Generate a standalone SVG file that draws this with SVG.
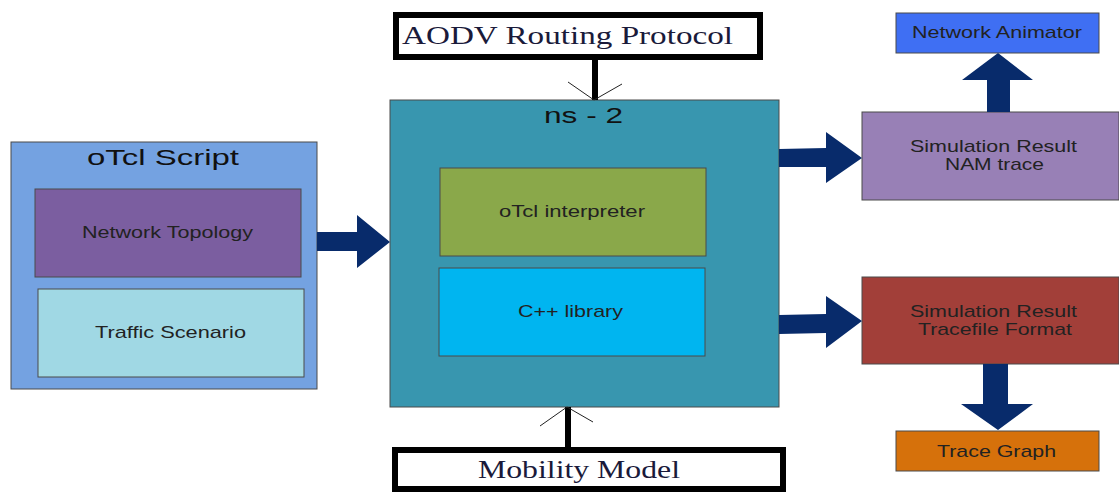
<svg xmlns="http://www.w3.org/2000/svg" width="1119" height="492" viewBox="0 0 1119 492">
<style>
.box{stroke:#4a4a4a;stroke-width:1}
.lbl{font-family:"Liberation Sans",Arial,sans-serif;font-size:17px;fill:#222;text-anchor:start}
.ttl{font-family:"Liberation Sans",Arial,sans-serif;font-size:22px;fill:#111}
.ser{font-family:"Liberation Serif","Times New Roman",serif;font-size:26px;fill:#1a1a3a}
.frame{fill:#fff;stroke:#000;stroke-width:6}
.fat{fill:#082b6b}
.thick{stroke:#000;stroke-width:6;fill:none}
.thin{stroke:#222;stroke-width:1;fill:none}
</style>
<rect width="1119" height="492" fill="#fff"/>
<g id="otcl-script">
<rect class="box" x="11" y="142" width="306" height="247" fill="#74a2e1"/>
<text class="ttl" x="87" y="165" textLength="152" lengthAdjust="spacingAndGlyphs">oTcl Script</text>
</g>
<g id="network-topology">
<rect class="box" x="35" y="189" width="266" height="88" fill="#7b5ea0"/>
<text class="lbl" x="82" y="238" textLength="171" lengthAdjust="spacingAndGlyphs">Network Topology</text>
</g>
<g id="traffic-scenario">
<rect class="box" x="38" y="289" width="266" height="88" fill="#a0d8e4"/>
<text class="lbl" x="95" y="338" textLength="151" lengthAdjust="spacingAndGlyphs">Traffic Scenario</text>
</g>
<g id="ns2">
<rect class="box" x="390" y="100" width="389" height="307" fill="#3896af"/>
<text class="ttl" x="544" y="123" textLength="79" lengthAdjust="spacingAndGlyphs">ns - 2</text>
</g>
<g id="otcl-interpreter">
<rect class="box" x="440" y="168" width="266" height="88" fill="#8aa84a"/>
<text class="lbl" x="499" y="217" textLength="146" lengthAdjust="spacingAndGlyphs">oTcl interpreter</text>
</g>
<g id="cpp-library">
<rect class="box" x="439" y="268" width="266" height="88" fill="#00b5f0"/>
<text class="lbl" x="518" y="317" textLength="105" lengthAdjust="spacingAndGlyphs">C++ library</text>
</g>
<g id="aodv">
<rect class="frame" x="396" y="15" width="364" height="42"/>
<text class="ser" x="402" y="44" textLength="331" lengthAdjust="spacingAndGlyphs">AODV Routing Protocol</text>
</g>
<g id="mobility">
<rect class="frame" x="395" y="450" width="388" height="39"/>
<text class="ser" x="478" y="478" textLength="202" lengthAdjust="spacingAndGlyphs">Mobility Model</text>
</g>
<g id="network-animator">
<rect class="box" x="896" y="13" width="203" height="40" fill="#3f6ff3"/>
<text class="lbl" x="912" y="38" textLength="170" lengthAdjust="spacingAndGlyphs">Network Animator</text>
</g>
<g id="sim-nam">
<rect class="box" x="862" y="112" width="257" height="88" fill="#9880b6"/>
<text class="lbl" x="910" y="152" textLength="167" lengthAdjust="spacingAndGlyphs">Simulation Result</text>
<text class="lbl" x="945" y="170" textLength="99" lengthAdjust="spacingAndGlyphs">NAM trace</text>
</g>
<g id="sim-tracefile">
<rect class="box" x="862" y="277" width="257" height="87" fill="#a23f39"/>
<text class="lbl" x="910" y="317" textLength="167" lengthAdjust="spacingAndGlyphs">Simulation Result</text>
<text class="lbl" x="918" y="335" textLength="154" lengthAdjust="spacingAndGlyphs">Tracefile Format</text>
</g>
<g id="trace-graph">
<rect class="box" x="896" y="431" width="203" height="40" fill="#d6710b"/>
<text class="lbl" x="937" y="457" textLength="119" lengthAdjust="spacingAndGlyphs">Trace Graph</text>
</g>
<g id="connectors">
<polygon class="fat" points="317,232 357,232 357,215 390,242 357,268 357,251 317,251"/>
<polygon class="fat" points="779,149 826,148 826,132 862,158 826,183 826,167 779,167"/>
<polygon class="fat" points="779,315 826,314 826,296 862,321 826,348 826,333 779,334"/>
<polygon class="fat" points="987,112 987,80 962,80 998,53 1033,80 1010,80 1010,112"/>
<polygon class="fat" points="983,364 983,404 961,404 998,430 1033,404 1008,404 1008,364"/>
<line class="thick" x1="595" y1="57" x2="595" y2="100"/>
<polyline class="thin" points="568,82 594,100 622,84"/>
<line class="thick" x1="568" y1="407" x2="568" y2="447"/>
<polyline class="thin" points="540,426 567,407 593,422"/>
</g>
</svg>
